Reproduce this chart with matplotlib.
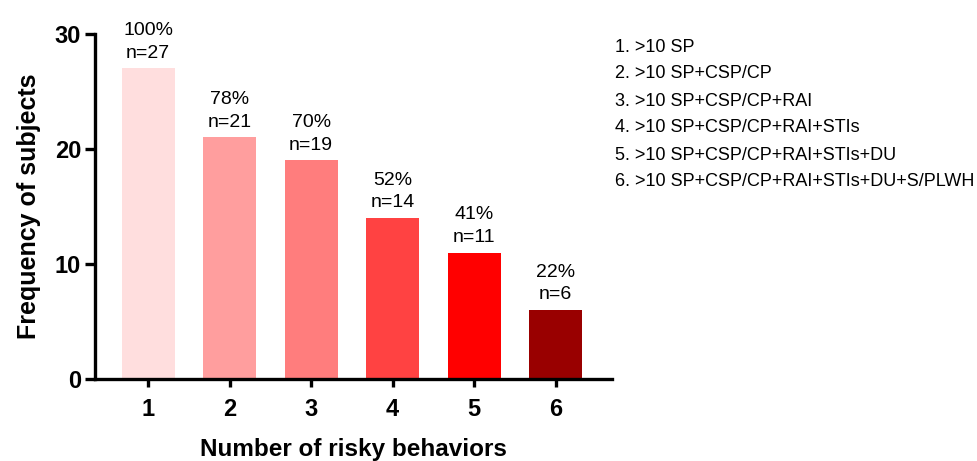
import matplotlib
matplotlib.use("Agg")
import matplotlib.pyplot as plt

plt.rcParams["font.family"] = ["Liberation Sans", "DejaVu Sans"]

behaviors = [1, 2, 3, 4, 5, 6]
counts = [27, 21, 19, 14, 11, 6]
percents = ["100%", "78%", "70%", "52%", "41%", "22%"]
colors = ["#FFDEDE", "#FF9E9E", "#FF7D7D", "#FF4242", "#FF0000", "#990000"]
legend_lines = [
    "1. >10 SP",
    "2. >10 SP+CSP/CP",
    "3. >10 SP+CSP/CP+RAI",
    "4. >10 SP+CSP/CP+RAI+STIs",
    "5. >10 SP+CSP/CP+RAI+STIs+DU",
    "6. >10 SP+CSP/CP+RAI+STIs+DU+S/PLWH",
]

W, H = 977, 461
fig = plt.figure(figsize=(W / 100, H / 100), dpi=100)
# axes box in pixels: left spine x=95, right end x=612, y=0 at 379, y=30 at 34
ax = fig.add_axes([95 / W, 1 - 379 / H, (612 - 95) / W, (379 - 34) / H])

ax.bar(behaviors, counts, width=0.65, color=colors, edgecolor="none")
for x, c, p in zip(behaviors, counts, percents):
    ax.annotate(f"{p}\nn={c}", xy=(x, c), xytext=(0, 5), textcoords="offset points",
                ha="center", va="bottom", fontsize=14, linespacing=1.4)

ax.set_xlim(0.35, 6.69)
ax.set_ylim(0, 30)
ax.set_xticks(behaviors)
ax.set_yticks([0, 10, 20, 30])
for s in ("top", "right"):
    ax.spines[s].set_visible(False)
for s in ("left", "bottom"):
    ax.spines[s].set_linewidth(2.4)
ax.tick_params(axis="both", width=2.4, labelsize=17, direction="out")
ax.tick_params(axis="y", length=7, pad=3)
ax.tick_params(axis="x", length=6, pad=8)
for lab in ax.get_xticklabels() + ax.get_yticklabels():
    lab.set_fontweight("bold")

ax.set_xlabel("Number of risky behaviors", fontsize=17.5, fontweight="bold", labelpad=12)
ax.set_ylabel("Frequency of subjects", fontsize=18, fontweight="bold", labelpad=10)

for i, line in enumerate(legend_lines):
    fig.text(615 / W, 1 - (47 + 27 * i) / H, line, fontsize=13, ha="left", va="center")

fig.savefig("out.png", dpi=100)
